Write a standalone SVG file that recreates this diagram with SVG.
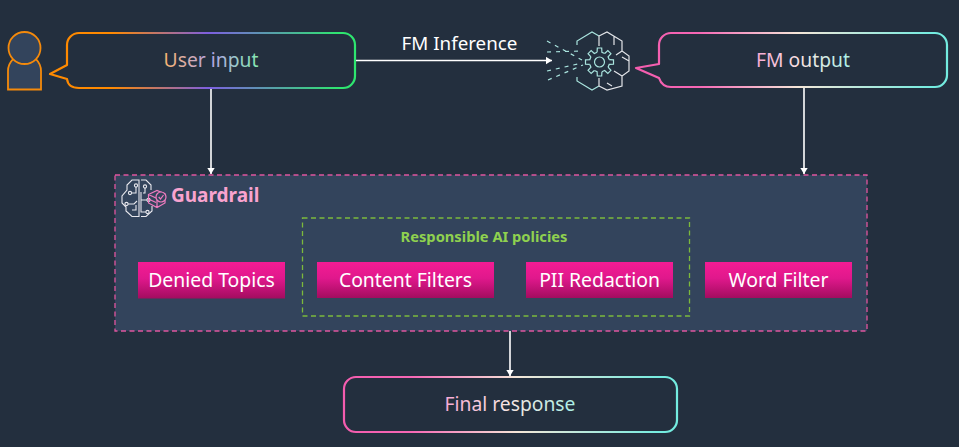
<svg xmlns="http://www.w3.org/2000/svg" width="959" height="447" viewBox="0 0 959 447">
<defs>
<linearGradient id="gIn" x1="0" y1="0" x2="1" y2="0"><stop offset="0" stop-color="#ff8a00"/><stop offset="0.2" stop-color="#ff8a00"/><stop offset="0.52" stop-color="#7d5fe0"/><stop offset="0.95" stop-color="#2ee66f"/></linearGradient>
<linearGradient id="gOut" x1="0" y1="0" x2="1" y2="0"><stop offset="0" stop-color="#f45cae"/><stop offset="0.2" stop-color="#f667b5"/><stop offset="0.52" stop-color="#f5e6d8"/><stop offset="0.95" stop-color="#74ece0"/></linearGradient>
<linearGradient id="tIn" x1="0" y1="0" x2="1" y2="0"><stop offset="0" stop-color="#fbb26e"/><stop offset="0.5" stop-color="#b5a5e8"/><stop offset="1" stop-color="#84e8b0"/></linearGradient>
<linearGradient id="tOut" x1="0" y1="0" x2="1" y2="0"><stop offset="0" stop-color="#f8a8d4"/><stop offset="0.5" stop-color="#f7e6e2"/><stop offset="1" stop-color="#a8f0e6"/></linearGradient>
<linearGradient id="btn" x1="0" y1="0" x2="0" y2="1"><stop offset="0" stop-color="#f41c94"/><stop offset="0.45" stop-color="#e0188c"/><stop offset="1" stop-color="#a30c5f"/></linearGradient>
<marker id="arr" markerUnits="userSpaceOnUse" markerWidth="7" markerHeight="8" refX="6.5" refY="4" orient="auto"><path d="M0 0L6.500 4L0 8Z" fill="#fff"/></marker>
<path id="tooth" d="M-2.400 -9.700L-2.200 -14H2.200L2.400 -9.700L5.150 -8.570"/>
<style>
text{font-family:"Noto Sans","Open Sans","Liberation Sans",sans-serif}
.bubble{fill:#232f3e;stroke-width:2.200;stroke-linejoin:round}
.lbl{font-size:19.300px;text-anchor:middle}
.btn{fill:url(#btn)}
.btxt{font-size:19.400px;fill:#fff;text-anchor:middle}
.conn{stroke:#fff;stroke-width:1.600;fill:none;marker-end:url(#arr)}
.ic{fill:none;stroke:#a9e4de;stroke-width:1.200}
.iw{fill:none;stroke:#e4e6ea;stroke-width:1.200}
.ig{fill:none;stroke:#e8e8ee;stroke-width:1.100}
.ip{fill:none;stroke:#f07cc0;stroke-width:1.200}
</style>
</defs>
<rect width="959" height="447" fill="#232f3e"/>
<g id="guardrail">
<rect x="115" y="175" width="752" height="156" fill="#33445c" stroke="#e0559f" stroke-width="1.300" stroke-dasharray="5 3.500"/>
<g>
<path class="ig" d="M139 180H132L127 185V190L122 196V203L126 207V211L132 216.500H139ZM141 180H146L151 185V190M141 216.500H146L152 211V206"/>
<path class="ig" d="M132 193H136V187M128 204H134L137 201M132 210H136V205M141 192V212H146M141 200H147M145 188V193H143"/>
<g class="ig"><circle cx="130" cy="193" r="1.600"/><circle cx="126.500" cy="204" r="1.600"/><circle cx="136" cy="185.500" r="1.600"/><circle cx="145" cy="186.500" r="1.600"/><circle cx="148.500" cy="200" r="1.600"/><circle cx="147.500" cy="212" r="1.600"/></g>
<path class="ip" d="M148.500 194.500L157 190.500L165 194V203L157 207.500L148.500 203ZM148.500 194.500L157 198.500M157 198.500V207.500M148.500 199L156 202.500"/>
<circle class="ip" cx="161" cy="197" r="5" style="fill:#33445c"/><path class="ip" d="M158.700 197L160.500 199L163.500 195"/>
</g>
<text x="171" y="202" font-size="19px" font-weight="700" fill="#f9a3cf">Guardrail</text>
</g>
<g id="policies">
<rect x="302.500" y="218" width="387" height="98" fill="none" stroke="#7cb93c" stroke-width="1.300" stroke-dasharray="5 3.500"/>
<text x="484" y="242" font-size="14.700px" font-weight="700" fill="#8fd14f" text-anchor="middle">Responsible AI policies</text>
</g>
<g id="denied-topics"><rect class="btn" x="138" y="262" width="147" height="36.500"/><text class="btxt" x="211.500" y="287">Denied Topics</text></g>
<g id="content-filters"><rect class="btn" x="317" y="262" width="177" height="36"/><text class="btxt" x="405.500" y="286.500">Content Filters</text></g>
<g id="pii-redaction"><rect class="btn" x="526" y="262" width="147" height="36"/><text class="btxt" x="599.500" y="286.500">PII Redaction</text></g>
<g id="word-filter"><rect class="btn" x="705" y="262" width="147" height="36"/><text class="btxt" x="778.500" y="286.500">Word Filter</text></g>
<g id="user">
<path d="M8 89.500V71a16 16 0 0 1 33 0V89.500Z" fill="#33445c" stroke="#f58a0b" stroke-width="1.800"/>
<circle cx="24.500" cy="48" r="16" fill="#33445c" stroke="#f58a0b" stroke-width="1.800"/>
</g>
<g id="user-input">
<path class="bubble" stroke="url(#gIn)" d="M79 33H343a12 12 0 0 1 12 12V76a12 12 0 0 1-12 12H79Q68 88 67 79L50 74L67 65V45a12 12 0 0 1 12-12Z"/>
<text class="lbl" x="211" y="67" fill="url(#tIn)">User input</text>
</g>
<g id="fm">
<path class="ic" d="M577 45V41L592 32L599 36M577 77V81L592 90L599 86"/>
<path class="iw" d="M599 36L607 32L622 41V51L629 56V71L622 76V86L607 90L599 86M599 36V46M614 36.500V45M622 51L616 55M629 61L622 57M622 76L614 71M599 86V78M612 86L607 83"/>
<circle class="ic" cx="599.500" cy="62" r="5"/>
<g class="ic" transform="translate(599.500 62)"><use href="#tooth"/><use href="#tooth" transform="rotate(45)"/><use href="#tooth" transform="rotate(90)"/><use href="#tooth" transform="rotate(135)"/><use href="#tooth" transform="rotate(180)"/><use href="#tooth" transform="rotate(225)"/><use href="#tooth" transform="rotate(270)"/><use href="#tooth" transform="rotate(315)"/></g>
<path class="ic" stroke-dasharray="4 5" d="M547 41L582 60M547 52L583 51M547 71L582 63M548 80L583 65"/>
</g>
<g id="fm-output">
<path class="bubble" stroke="url(#gOut)" d="M671 33H935a12 12 0 0 1 12 12V75a12 12 0 0 1-12 12H671Q662 87 659 78L636 68L659 64V45a12 12 0 0 1 12-12Z"/>
<text class="lbl" x="803" y="67" fill="url(#tOut)">FM output</text>
</g>
<g id="final-response">
<rect class="bubble" stroke="url(#gOut)" x="344" y="377" width="333" height="55" rx="12"/>
<text class="lbl" x="510" y="411" fill="url(#tOut)">Final response</text>
</g>
<g id="connectors">
<path class="conn" d="M211 89V174"/>
<path class="conn" d="M804 88V174"/>
<path class="conn" d="M356 60.500H552"/>
<path class="conn" d="M510 331V376"/>
</g>
<text x="459.500" y="50" font-size="18.800px" fill="#fff" text-anchor="middle">FM Inference</text>
</svg>
